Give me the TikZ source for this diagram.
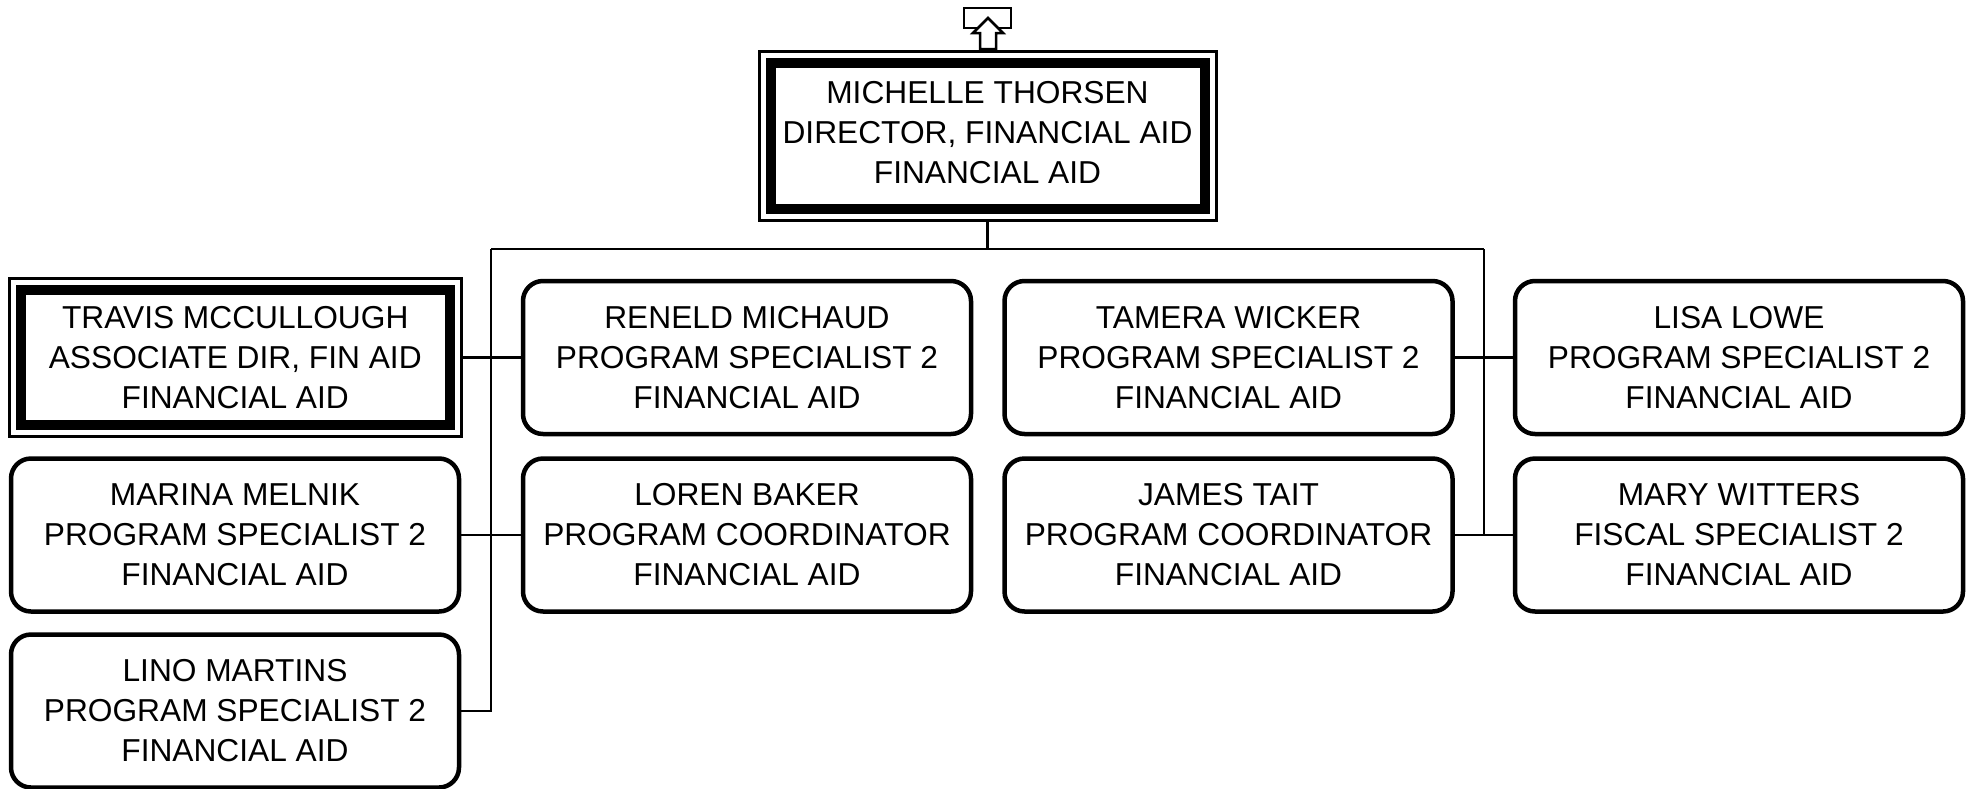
\documentclass[tikz,border=0pt]{standalone}
\usepackage{fontspec}
\setmainfont{Liberation Sans}
\begin{document}
\begin{tikzpicture}[x=1pt,y=-1pt,
  txt/.style={align=center,font=\fontsize{31.7}{40}\selectfont,inner sep=0pt},
  card/.style={txt,draw,line width=4.5pt,rounded corners=20pt,minimum width=448pt,minimum height=153pt},
  boss/.style={txt,draw,line width=3pt,path picture={\draw[line width=10pt] ([xshift=11.5pt,yshift=-11.5pt]path picture bounding box.north west) rectangle ([xshift=-11.5pt,yshift=11.5pt]path picture bounding box.south east);}},
  link/.style={line width=2.5pt},
  icon/.style={line width=2.5pt,fill=white,line join=miter}]
\useasboundingbox (0,0) rectangle (1973,788);

% top boss
\node[boss,minimum width=457pt,minimum height=169pt,text depth=7pt] (top) at (987.5,135.5)
  {MICHELLE THORSEN\\DIRECTOR, FINANCIAL AID\\FINANCIAL AID};

% up icon
\draw[icon] (964,8) rectangle (1011,28);
\draw[icon] (988,18) -- (1003,33) -- (996,33) -- (996,49) -- (980,49) -- (980,33) -- (973,33) -- cycle;

% row 1
\node[boss,minimum width=451.5pt,minimum height=158pt] (travis) at (235.25,357.5)
  {TRAVIS MCCULLOUGH\\ASSOCIATE DIR, FIN AID\\FINANCIAL AID};
\node[card] (reneld) at (747,357.5) {RENELD MICHAUD\\PROGRAM SPECIALIST 2\\FINANCIAL AID};
\node[card] (tamera) at (1228.5,357.5) {TAMERA WICKER\\PROGRAM SPECIALIST 2\\FINANCIAL AID};
\node[card] (lisa) at (1739,357.5) {LISA LOWE\\PROGRAM SPECIALIST 2\\FINANCIAL AID};

% row 2
\node[card] (marina) at (235,535) {MARINA MELNIK\\PROGRAM SPECIALIST 2\\FINANCIAL AID};
\node[card] (loren) at (747,535) {LOREN BAKER\\PROGRAM COORDINATOR\\FINANCIAL AID};
\node[card] (james) at (1228.5,535) {JAMES TAIT\\PROGRAM COORDINATOR\\FINANCIAL AID};
\node[card] (mary) at (1739,535) {MARY WITTERS\\FISCAL SPECIALIST 2\\FINANCIAL AID};

% row 3
\node[card] (lino) at (235,711) {LINO MARTINS\\PROGRAM SPECIALIST 2\\FINANCIAL AID};

% bus
\coordinate (busT) at (987.5,249);
\coordinate (busL) at (491,249);
\coordinate (busR) at (1484,249);

\draw[link] (top.south) -- (busT);
\draw[link] (busL) -- (busR);
\draw[link] (busL) |- (lino.east);
\draw[link] (busR) |- (mary.west);
\draw[link] (travis.east) -- (reneld.west);
\draw[link] (marina.east) -- (loren.west);
\draw[link] (tamera.east) -- (lisa.west);
\draw[link] (james.east) -- (mary.west);
\end{tikzpicture}
\end{document}
